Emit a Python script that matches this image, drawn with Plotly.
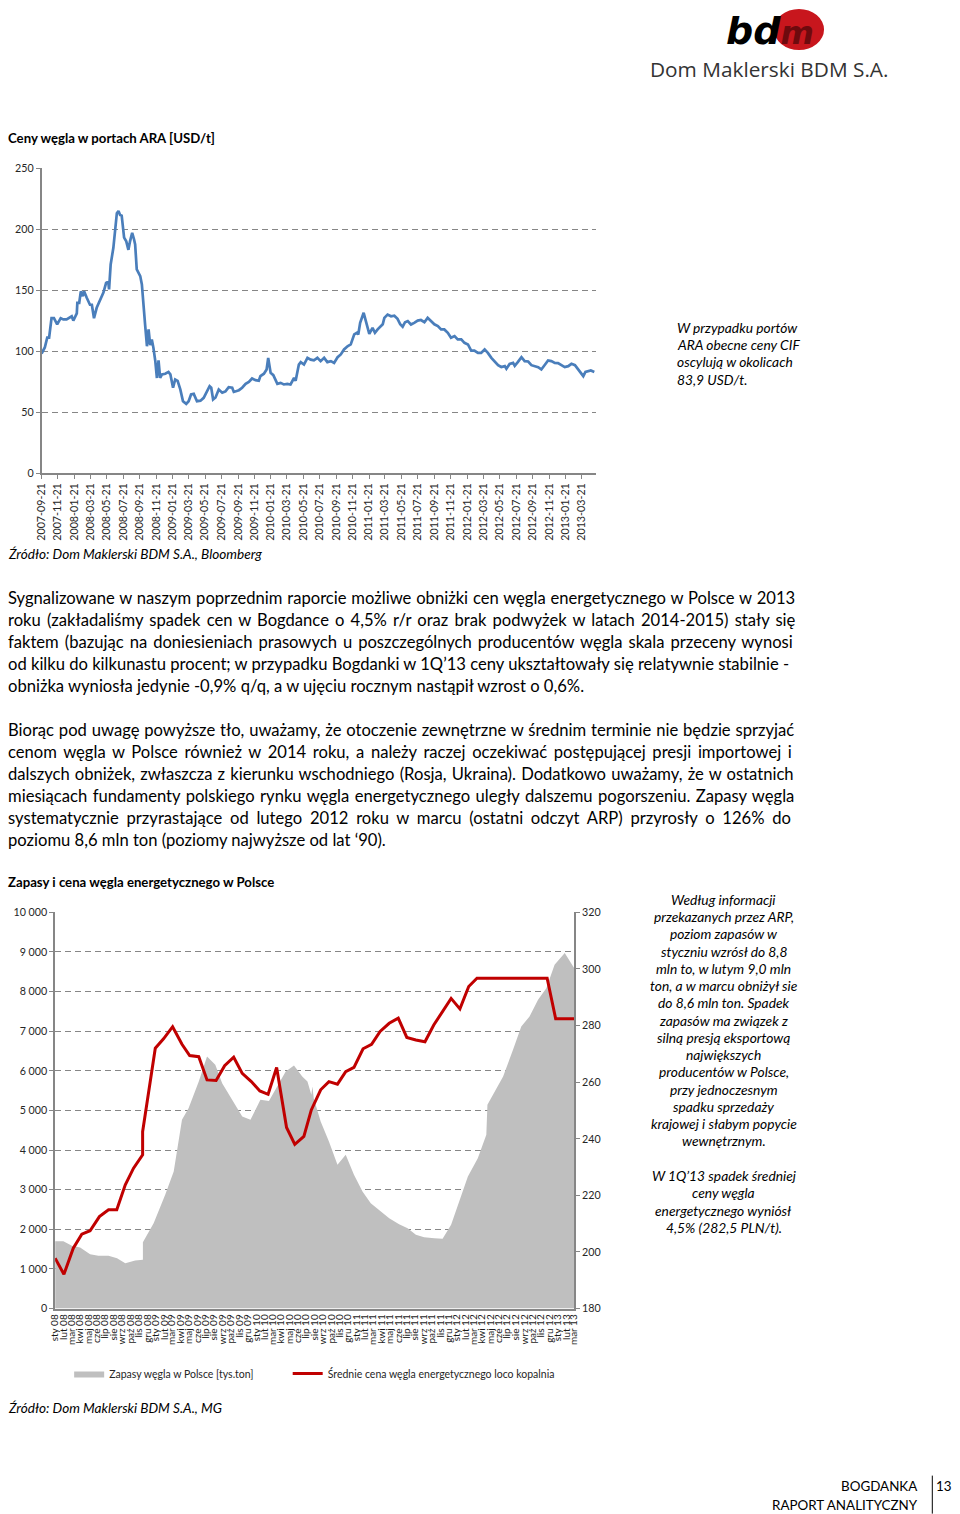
import plotly.graph_objects as go
import pandas as pd

W, H = 960, 1514
# Positions below are given in reference-page pixels; the photographed page shows the
# figure slightly offset/scaled, so map page pixels back to figure pixels.
SX, SY, OX, OY = 0.984, 0.991, 8.0, 6.0
def X(px): return ((px - OX) / SX) / W
def Y(py): return 1 - ((py - OY) / SY) / H

FONT = "Lato"

# ---------------- Chart 1: ARA coal prices [USD/t] ----------------
ara_dates = ["2007-09-21","2007-10-03","2007-10-12","2007-10-19","2007-10-28","2007-11-06","2007-11-18","2007-12-01","2007-12-11","2007-12-23",
"2008-01-11","2008-01-17","2008-01-30","2008-02-01","2008-02-08","2008-02-14","2008-02-21","2008-02-26","2008-03-07","2008-03-19",
"2008-03-26","2008-04-03","2008-04-13","2008-04-26","2008-05-08","2008-05-18","2008-05-26","2008-05-29","2008-06-04","2008-06-14",
"2008-06-20","2008-06-27","2008-07-03","2008-07-09","2008-07-15","2008-07-24","2008-08-01","2008-08-09","2008-08-15","2008-08-23",
"2008-08-30","2008-09-03","2008-09-09","2008-09-22","2008-09-28","2008-10-04","2008-10-10","2008-10-17","2008-10-23","2008-10-29",
"2008-11-04","2008-11-10","2008-11-17","2008-11-23","2008-11-29","2008-12-05","2008-12-12","2008-12-24","2009-01-05","2009-01-12",
"2009-01-22","2009-01-30","2009-02-08","2009-02-18","2009-02-28","2009-03-12","2009-03-21","2009-03-30","2009-04-09","2009-04-21",
"2009-05-04","2009-05-16","2009-05-29","2009-06-07","2009-06-13","2009-06-20","2009-06-29","2009-07-11","2009-07-24","2009-08-05",
"2009-08-17","2009-08-30","2009-09-05","2009-09-24","2009-10-06","2009-10-19","2009-10-31","2009-11-12","2009-11-25","2009-12-07",
"2009-12-13","2009-12-26","2010-01-05","2010-01-11","2010-01-20","2010-01-30","2010-02-14","2010-02-26","2010-03-10","2010-03-23",
"2010-04-04","2010-04-17","2010-04-23","2010-05-05","2010-05-12","2010-05-24","2010-06-06","2010-06-18","2010-06-30","2010-07-13",
"2010-07-25","2010-08-07","2010-08-19","2010-09-01","2010-09-13","2010-09-26","2010-10-08","2010-10-20","2010-11-02","2010-11-14",
"2010-11-27","2010-12-07","2010-12-12","2010-12-19","2011-01-01","2011-01-09","2011-01-22","2011-02-03","2011-02-12","2011-02-22",
"2011-03-06","2011-03-13","2011-03-19","2011-03-31","2011-04-13","2011-04-25","2011-05-07","2011-05-17","2011-05-26","2011-06-04",
"2011-06-14","2011-06-26","2011-07-08","2011-07-21","2011-08-02","2011-08-15","2011-08-27","2011-09-09","2011-09-21","2011-10-04",
"2011-10-16","2011-10-28","2011-11-10","2011-11-22","2011-12-05","2011-12-17","2011-12-30","2012-01-11","2012-01-24","2012-02-05",
"2012-02-17","2012-03-01","2012-03-13","2012-03-26","2012-04-07","2012-04-20","2012-05-02","2012-05-15","2012-05-27","2012-06-09",
"2012-06-15","2012-06-27","2012-07-10","2012-07-16","2012-07-28","2012-08-10","2012-08-22","2012-09-04","2012-09-16","2012-09-28",
"2012-10-11","2012-10-23","2012-11-04","2012-11-17","2012-11-29","2012-12-12","2012-12-24","2013-01-06","2013-01-18","2013-01-31",
"2013-02-12","2013-02-25","2013-03-09","2013-03-22","2013-03-28","2013-04-05","2013-04-15","2013-04-25","2013-05-08"]
ara_prices = [98,103,111,111,127,127,122,127,126,126,
128.5,125,131,139.6,139.6,149,145,149,143.7,138,
138,127,135.5,142,148,156,157,150.6,171,184.7,
201,213,214.8,211.5,211,193,190,183,190,197,
191.5,187.5,167,161.5,154.7,141,122,104,117.8,104.9,
109.6,102.7,91.8,78,92.4,78,81,81.5,83,81,
70,76.8,75.7,68.6,59,56.8,59,64.5,65,59,
59.4,61.7,67,71.3,70,60.4,62,68.6,66,67,
70.5,70,66.6,68,70,73.2,74.8,77.6,76.2,75.7,
79.5,81.5,85,94.5,82.2,80.3,73.2,74,72.7,73.2,
72.7,78,75.7,89,91,89,94.5,93,92.4,94.5,
91.8,94.5,91,91.8,90.4,95,97.3,101.4,104,105.5,
113.7,115,113.7,123.2,131.4,125,114.2,119,115,117.8,
120.5,122,127.3,130,128.6,129,126.5,122,120,123.7,
124.6,121.8,123.2,125,125.5,123.7,127.3,124.6,122,120.5,
117.8,117.8,115,111,112.3,109.6,109.6,106.8,105.5,100.5,
100.5,98.6,98.6,101.4,98.6,94.5,91.2,88.5,87,87.7,
85.5,89.5,90.4,88,91.2,95,91.8,91.5,88.5,87.7,
86.9,85,89,92.4,91.8,90.4,90.2,88.5,86.9,87.7,
89.6,88.5,85,80.3,79.5,83,83.6,84.2,83]
ara_ticks = ["2007-09-21","2007-11-21","2008-01-21","2008-03-21","2008-05-21","2008-07-21","2008-09-21","2008-11-21",
"2009-01-21","2009-03-21","2009-05-21","2009-07-21","2009-09-21","2009-11-21","2010-01-21","2010-03-21",
"2010-05-21","2010-07-21","2010-09-21","2010-11-21","2011-01-21","2011-03-21","2011-05-21","2011-07-21",
"2011-09-21","2011-11-21","2012-01-21","2012-03-21","2012-05-21","2012-07-21","2012-09-21","2012-11-21",
"2013-01-21","2013-03-21"]

# ---------------- Chart 2: stocks & price in Poland ----------------
stock_dates = ["2008-01-01","2008-01-31","2008-03-02","2008-04-01","2008-05-07","2008-06-06","2008-07-13","2008-08-13","2008-09-12","2008-10-18",
"2008-11-15","2008-11-15","2008-12-24","2009-02-04","2009-03-07","2009-04-06","2009-04-30","2009-06-06","2009-07-06","2009-08-05",
"2009-08-30","2009-10-05","2009-11-11","2009-12-11","2010-01-16","2010-02-16","2010-03-18","2010-04-18","2010-05-18","2010-06-17",
"2010-07-06","2010-07-20","2010-07-24","2010-07-29","2010-08-23","2010-09-22","2010-10-23","2010-11-22","2010-12-22","2011-01-22",
"2011-02-21","2011-03-30","2011-04-29","2011-06-04","2011-07-05","2011-08-04","2011-09-03","2011-10-10","2011-11-09","2011-12-10",
"2012-01-09","2012-02-09","2012-03-16","2012-04-16","2012-04-20","2012-05-16","2012-06-16","2012-07-22","2012-08-21","2012-09-20",
"2012-10-21","2012-11-20","2012-12-20","2013-01-26","2013-03-01"]
stock_values = [1700,1700,1583,1540,1371,1330,1330,1270,1144,1212,
1229,1674,2154,2871,3459,4765,5058,5732,6363,6153,
5690,5270,4848,4765,5270,5240,5606,5984,6136,5858,
5732,5396,5606,5300,4722,4217,3628,3881,3376,2954,
2659,2449,2280,2129,2028,1861,1800,1775,1760,2113,
2702,3333,3795,4386,5143,5479,5858,6532,7120,7373,
7794,8087,8678,8972,8593]

price_dates = ["2008-01-01","2008-02-02","2008-03-07","2008-04-07","2008-05-07","2008-06-10","2008-07-13","2008-08-12","2008-09-12","2008-10-12",
"2008-11-14","2008-11-14","2008-12-30","2009-01-29","2009-03-03","2009-04-06","2009-05-04","2009-06-06","2009-07-06","2009-08-08",
"2009-09-08","2009-10-11","2009-11-11","2009-12-14","2010-01-14","2010-02-13","2010-03-16","2010-04-21","2010-05-21","2010-06-23",
"2010-07-20","2010-08-23","2010-09-22","2010-10-23","2010-11-22","2010-12-22","2011-01-24","2011-02-24","2011-03-27","2011-04-29",
"2011-06-01","2011-07-02","2011-08-04","2011-09-06","2011-10-08","2011-11-09","2011-12-10","2012-01-11","2012-02-12","2012-03-13",
"2012-11-23","2012-12-24","2013-03-01"]
price_values = [197.8,192.1,201.3,206.3,207.5,212.5,214.9,214.9,223.7,229.6,
234.3,242.5,272,275.3,279.6,273.4,269.4,269,260.8,260.6,
265.8,268.8,263.1,260.2,256.9,255.7,265.2,244,238,240.8,
250.2,257.3,260.2,259.3,263.7,265.2,271.8,273.4,277.9,280.8,
282.6,275.8,274.9,274.3,280.2,285,289.6,285.9,293.8,296.7,
296.7,282.4,282.4]

pl_months = ["sty","lut","mar","kwi","maj","cze","lip","sie","wrz","paź","lis","gru"]
month_ticks = pd.date_range("2008-01-01", "2013-03-01", freq="MS")
month_labels = [f"{pl_months[d.month-1]} {d.strftime('%y')}" for d in month_ticks]

GRID = "#868686"
TXT = "#262626"

fig = go.Figure()
fig.add_trace(go.Scatter(x=ara_dates, y=ara_prices, mode="lines", xaxis="x", yaxis="y",
                         line=dict(color="#4A7EBB", width=2.7), showlegend=False))
fig.add_trace(go.Scatter(x=stock_dates, y=stock_values, mode="lines", xaxis="x2", yaxis="y2",
                         fill="tozeroy", fillcolor="#BFBFBF", line=dict(color="#BFBFBF", width=0),
                         name="Zapasy węgla w Polsce [tys.ton]", legend="legend"))
fig.add_trace(go.Scatter(x=price_dates, y=price_values, mode="lines", xaxis="x2", yaxis="y3",
                         line=dict(color="#C00000", width=3),
                         name="Średnie cena węgla energetycznego loco kopalnia", legend="legend2"))

axis_common = dict(linecolor=GRID, linewidth=1.5, tickcolor=GRID, tickfont=dict(family=FONT, size=10.7, color=TXT))

fig.update_layout(
    width=W, height=H, margin=dict(l=0, r=0, t=0, b=0),
    paper_bgcolor="white", plot_bgcolor="white",
    separators=", ",
    font=dict(family=FONT, color=TXT),
    xaxis=dict(domain=[X(41.5), X(595)], anchor="y", type="date",
               range=["2007-09-21", "2013-05-16"], tickvals=ara_ticks, ticktext=ara_ticks,
               tickangle=-90, showgrid=False, showline=True, ticks="outside", ticklen=4,
               zeroline=False, **axis_common),
    yaxis=dict(domain=[Y(472), Y(167)], anchor="x", range=[0, 250], dtick=50,
               showgrid=True, gridcolor=GRID, gridwidth=1.3, griddash="6px,4px",
               showline=True, ticks="outside", ticklen=4, zeroline=False, **axis_common),
    xaxis2=dict(domain=[X(55), X(572.7)], anchor="y2", type="date",
                range=["2008-01-01", "2013-03-01"], tickvals=month_ticks, ticktext=month_labels,
                tickangle=-90, showgrid=False, showline=True, ticks="", zeroline=False,
                linecolor=GRID, linewidth=1.5, tickfont=dict(family=FONT, size=10, color="#1a1a1a")),
    yaxis2=dict(domain=[Y(1307), Y(911)], anchor="x2", range=[0, 10000], dtick=1000, tickformat=",d",
                showgrid=True, gridcolor=GRID, gridwidth=1.3, griddash="6px,4px",
                showline=True, ticks="outside", ticklen=4, zeroline=False, **axis_common),
    yaxis3=dict(overlaying="y2", anchor="x2", side="right", range=[180, 320], dtick=20,
                showgrid=False, showline=True, ticks="outside", ticklen=4, zeroline=False, **axis_common),
    legend=dict(orientation="h", x=X(69), y=Y(1372), xanchor="left", yanchor="middle",
                font=dict(family=FONT, size=10.5, color=TXT), bgcolor="rgba(0,0,0,0)"),
    legend2=dict(orientation="h", x=X(287), y=Y(1372), xanchor="left", yanchor="middle",
                 font=dict(family=FONT, size=10.5, color=TXT), bgcolor="rgba(0,0,0,0)"),
)

ann = []
def txt(px, py, text, size=13, italic=False, bold=False, anchor="left", color="black", family=FONT, ws=None):
    t = text
    if ws: t = f"<span style='word-spacing:{ws}px'>{t}</span>"
    if bold: t = f"<b>{t}</b>"
    if italic: t = f"<i>{t}</i>"
    xp = X(px)
    shift = 0
    if xp < 0:
        xp, shift = 0.0, -2
    ann.append(dict(x=xp, y=Y(py), xref="paper", yref="paper", text=t, showarrow=False, xshift=shift,
                    xanchor=anchor, yanchor="middle", font=dict(family=family, size=size, color=color)))

# Titles and sources
txt(2, 137, "Ceny węgla w portach ARA [USD/t]", size=13.2, bold=True)
txt(2, 553, "Źródło: Dom Maklerski BDM S.A., Bloomberg", size=13.6, italic=True)
txt(2, 881, "Zapasy i cena węgla energetycznego w Polsce", size=13.2, bold=True)
txt(2, 1406, "Źródło: Dom Maklerski BDM S.A., MG", size=13.6, italic=True)

# Side note chart 1
side1 = ["W przypadku portów", "ARA obecne ceny CIF", "oscylują w okolicach", "83,9 USD/t."]
for i, line in enumerate(side1):
    txt(673, 326 + i * 17.4, line, size=13.8, italic=True)

# Body paragraphs (justified in the original: word spacing per line)
para1 = ["Sygnalizowane w naszym poprzednim raporcie możliwe obniżki cen węgla energetycznego w Polsce w 2013",
         "roku (zakładaliśmy spadek cen w Bogdance o 4,5% r/r oraz brak podwyżek w latach 2014-2015) stały się",
         "faktem (bazując na doniesieniach prasowych u poszczególnych producentów węgla skala przeceny wynosi",
         "od kilku do kilkunastu procent; w przypadku Bogdanki w 1Q’13 ceny ukształtowały się relatywnie stabilnie -",
         "obniżka wyniosła jedynie -0,9% q/q, a w ujęciu rocznym nastąpił wzrost o 0,6%."]
para1_ws = [0.6, 1.9, 1.75, 0, 0]
para2 = ["Biorąc pod uwagę powyższe tło, uważamy, że otoczenie zewnętrzne w średnim terminie nie będzie sprzyjać",
         "cenom węgla w Polsce również w 2014 roku, a należy raczej oczekiwać postępującej presji importowej i",
         "dalszych obniżek, zwłaszcza z kierunku wschodniego (Rosja, Ukraina). Dodatkowo uważamy, że w ostatnich",
         "miesiącach fundamenty polskiego rynku węgla energetycznego uległy dalszemu pogorszeniu. Zapasy węgla",
         "systematycznie przyrastające od lutego 2012 roku w marcu (ostatni odczyt ARP) przyrosły o 126% do",
         "poziomu 8,6 mln ton (poziomy najwyższe od lat ‘90)."]
para2_ws = [0.6, 2.4, 0.95, 1.24, 3.5, 0]
for i, line in enumerate(para1):
    txt(2, 597 + i * 22, line, size=16.6, ws=para1_ws[i])
for i, line in enumerate(para2):
    txt(2, 729 + i * 22, line, size=16.6, ws=para2_ws[i])

# Side note chart 2
side2 = ["Według informacji", "przekazanych przez ARP,", "poziom zapasów w", "styczniu wzrósł do 8,8",
         "mln to, w lutym 9,0 mln", "ton, a w marcu obniżył sie", "do 8,6 mln ton. Spadek",
         "zapasów ma związek z", "silną presją eksportową", "największych", "producentów w Polsce,",
         "przy jednoczesnym", "spadku sprzedaży", "krajowej i słabym popycie", "wewnętrznym."]
for i, line in enumerate(side2):
    txt(722, 898 + i * 17.25, line, size=13.8, italic=True, anchor="center")
side3 = ["W 1Q’13 spadek średniej", "ceny węgla", "energetycznego wyniósł", "4,5% (282,5 PLN/t)."]
for i, line in enumerate(side3):
    txt(722, 1174 + i * 17.3, line, size=13.8, italic=True, anchor="center")

# Footer
txt(918, 1484, "BOGDANKA", size=13.4, anchor="right")
txt(918, 1503, "RAPORT ANALITYCZNY", size=13.4, anchor="right")
txt(952, 1484, "13", size=13.4, anchor="right")

# Logo
txt(768, 30, "bd<span style='color:#6E0A0E;font-size:32px'>m</span>", size=38, bold=True, italic=True,
    anchor="center", family="DejaVu Sans")
txt(767, 68, "Dom Maklerski BDM S.A.", size=20.8, anchor="center", color="#333333", family="Open Sans")

fig.update_layout(annotations=ann, shapes=[
    dict(type="circle", xref="paper", yref="paper", x0=X(772), x1=X(822), y0=Y(49), y1=Y(8),
         fillcolor="#C8161D", line=dict(width=0), layer="below"),
    dict(type="line", xref="paper", yref="paper", x0=X(930), x1=X(930), y0=Y(1474), y1=Y(1512),
         line=dict(color="black", width=1)),
])

fig.write_html("out.html")
